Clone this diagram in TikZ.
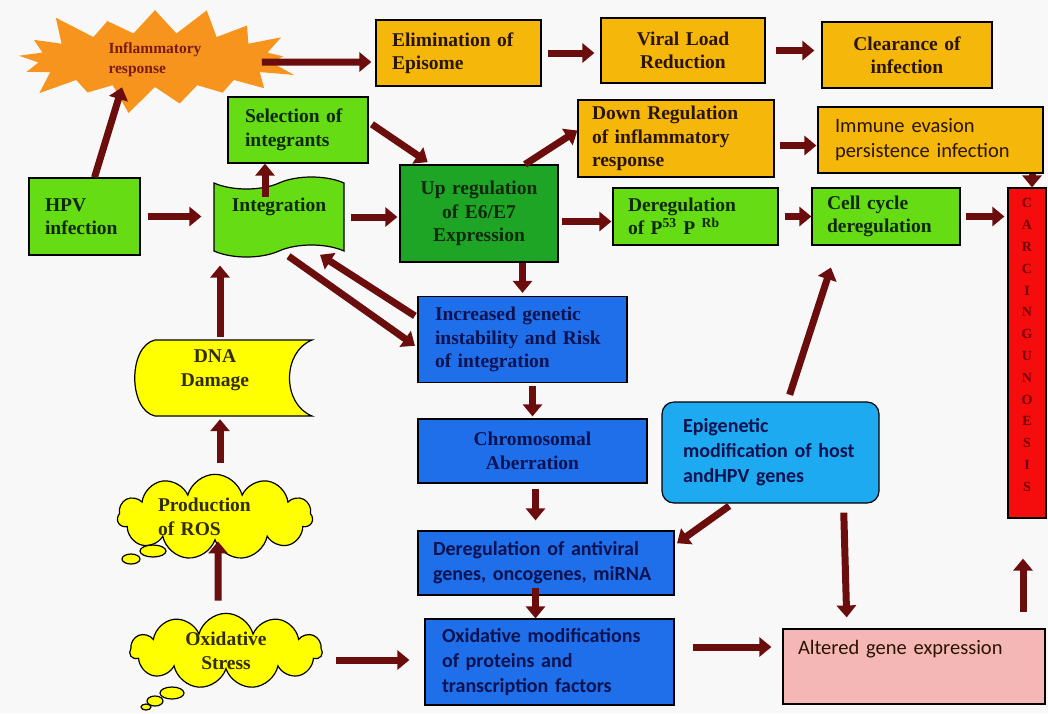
\documentclass[tikz,border=0pt]{standalone}
\usepackage{fontspec}
\setmainfont{Liberation Serif}
\newfontfamily\calibri{Carlito}
\usetikzlibrary{arrows.meta,shapes.symbols}

\definecolor{bgwhite}{RGB}{248,248,248}
\definecolor{boxgold}{RGB}{245,184,10}
\definecolor{litegreen}{RGB}{102,220,20}
\definecolor{dkgreen}{RGB}{31,165,38}
\definecolor{boxblue}{RGB}{31,111,235}
\definecolor{epiblue}{RGB}{30,170,240}
\definecolor{pinkbox}{RGB}{245,182,182}
\definecolor{carcred}{RGB}{245,12,12}
\definecolor{puffyellow}{RGB}{255,255,0}
\definecolor{burstorange}{RGB}{247,148,30}
\definecolor{arrowred}{RGB}{107,13,13}
\definecolor{goldtext}{RGB}{42,21,0}
\definecolor{greentext}{RGB}{16,40,10}
\definecolor{bluetext}{RGB}{10,18,80}
\definecolor{infltext}{RGB}{122,26,26}
\definecolor{carctext}{RGB}{112,0,0}
\definecolor{pufftext}{RGB}{50,45,0}

\tikzset{
  box/.style={draw=black, line width=1.2pt, inner xsep=0pt, inner ysep=0pt, align=left},
  serifbox/.style={box, font=\bfseries\fontsize{19.5}{23.5}\selectfont},
  sansbox/.style={box, font=\calibri\fontsize{20.5}{25}\selectfont},
  goldbox/.style={serifbox, fill=boxgold, text=goldtext},
  greenbox/.style={serifbox, fill=litegreen, text=greentext},
  bluebox/.style={serifbox, fill=boxblue, text=bluetext},
  sansblue/.style={sansbox, font=\calibri\bfseries\fontsize{20}{25}\selectfont, text=bluetext},
  puff/.style={cloud, cloud puffs=11, cloud ignores aspect, draw=black, line width=1.2pt, fill=puffyellow, text=pufftext, inner sep=0pt, font=\bfseries\fontsize{19.5}{23.5}\selectfont},
  flow/.style={draw=arrowred, line width=7pt, -{Triangle[length=12pt,width=19pt]}},
}

\begin{document}
\begin{tikzpicture}[x=1pt,y=-1pt]
\useasboundingbox (0,0) rectangle (1048,713);
\fill[bgwhite] (0,0) rectangle (1048,713);

% top row
\node[starburst, starburst points=17, starburst point height=32pt, fill=burstorange, minimum width=298pt, minimum height=118pt, inner sep=0pt, align=left, text=infltext, font=\bfseries\fontsize{15.5}{20}\selectfont] (infl) at (155,60) {Inflammatory\\response};
\node[goldbox, minimum width=165pt, minimum height=66pt, text width=133pt] (elim) at (458.5,53) {Elimination of\\Episome};
\node[goldbox, align=center, minimum width=164pt, minimum height=65pt, text width=140pt] (viral) at (683,50.5) {Viral Load\\Reduction};
\node[goldbox, align=center, minimum width=170pt, minimum height=66pt, text width=140pt] (clear) at (907,55) {Clearance of\\infection};

\node[greenbox, minimum width=140pt, minimum height=66pt, text width=106pt] (sel) at (298,130) {Selection of\\integrants};
\node[goldbox, minimum width=196pt, minimum height=77pt, text width=168pt] (down) at (676,138.5) {Down Regulation\\of inflammatory\\response};
\node[sansbox, fill=boxgold, text=goldtext, minimum width=225pt, minimum height=66pt, text width=191pt] (immune) at (930.5,140) {Immune evasion\\persistence infection};

% middle row
\node[greenbox, minimum width=111pt, minimum height=77pt, text width=79pt] (hpv) at (84.5,216.5) {HPV\\infection};
\node[tape, tape bend height=12pt, draw=black, line width=1.2pt, fill=litegreen, text=greentext, font=\bfseries\fontsize{19.5}{23.5}\selectfont, minimum width=130pt, minimum height=80pt, inner sep=0pt, text height=14pt, text depth=26pt] (integ) at (279,217) {Integration};
\node[greenbox, fill=dkgreen, align=center, minimum width=158pt, minimum height=97pt, text width=140pt] (upreg) at (479,213.5) {Up regulation\\of E6/E7\\Expression};
\node[greenbox, minimum width=165pt, minimum height=57pt, text width=135pt] (p53) at (695.5,216.5) {Deregulation\\of P\textsuperscript{53} P \textsuperscript{Rb}};
\node[greenbox, minimum width=148pt, minimum height=57pt, text width=118pt] (cell) at (886,216.5) {Cell cycle\\deregulation};
\node[box, fill=carcred, text=carctext, align=center, minimum width=38pt, minimum height=330pt, text depth=16pt, font=\bfseries\fontsize{14}{21.8}\selectfont] (carc) at (1027,353) {C\\A\\R\\C\\I\\N\\G\\U\\N\\O\\E\\S\\I\\S};

% blue column
\node[bluebox, minimum width=209pt, minimum height=86pt, text width=175pt] (incr) at (522.5,339.5) {Increased genetic\\instability and Risk\\of integration};
\node[bluebox, align=center, minimum width=229pt, minimum height=64pt, text width=200pt] (chrom) at (532.5,451) {Chromosomal\\Aberration};
\node[sansblue, fill=boxblue, minimum width=256pt, minimum height=64pt, text width=226pt] (antiv) at (546,563) {Deregulation of antiviral\\genes, oncogenes, miRNA};
\node[sansblue, fill=boxblue, minimum width=249pt, minimum height=86pt, text width=215pt] (oxmod) at (549.5,662) {Oxidative modifications\\of proteins and\\transcription factors};
\node[sansblue, fill=epiblue, rounded corners=12pt, minimum width=217pt, minimum height=101pt, text width=175pt] (epi) at (770.5,452.5) {Epigenetic\\modification of host\\andHPV genes};
\node[sansbox, fill=pinkbox, text=goldtext, minimum width=262pt, minimum height=75pt, text width=232pt, text height=15pt, text depth=40pt] (alter) at (914,666.5) {Altered gene expression};

% left column
\draw[line width=1.2pt, fill=puffyellow] (155,340) -- (312,340) .. controls (282,352) and (282,404) .. (312,416) -- (155,416) .. controls (128,410) and (128,346) .. (155,340) -- cycle;
\node[align=center, text=pufftext, font=\bfseries\fontsize{19.5}{23.5}\selectfont, minimum width=160pt, minimum height=66pt, inner sep=0pt] (dna) at (215,370) {DNA\\Damage};
\node[puff, align=left, minimum width=195pt, minimum height=85pt, text width=114pt] (ros) at (215,517) {Production\\of ROS};
\draw[line width=1.2pt, fill=puffyellow] (153,551) ellipse (13pt and 6pt);
\draw[line width=1.2pt, fill=puffyellow] (131,559) ellipse (9pt and 5pt);
\node[puff, align=center, minimum width=192pt, minimum height=72pt] (oxs) at (226,651) {Oxidative\\Stress};
\draw[line width=1.2pt, fill=puffyellow] (172,693) ellipse (12pt and 6pt);
\draw[line width=1.2pt, fill=puffyellow] (155,701) ellipse (8pt and 5pt);
\draw[line width=1.2pt, fill=puffyellow] (146,707) ellipse (5pt and 3pt);

% arrows
\draw[flow, shorten >=4pt] ([xshift=-15pt,yshift=-2pt]infl.east) -- ([yshift=-9pt]elim.west);
\draw[flow, shorten <=6pt, shorten >=6pt] (elim.east) -- (elim.east -| viral.west);
\draw[flow, shorten <=10pt, shorten >=7pt] (viral.east) -- (viral.east -| clear.west);
\draw[flow] ([xshift=10pt]hpv.north) -- ([xshift=-33pt]infl.south);
\draw[flow, shorten <=7pt, shorten >=12pt] (hpv.east) -- (hpv.east -| integ.west);
\draw[flow] ([xshift=-14pt,yshift=-15pt]integ.north) -- ([xshift=-14pt]integ.north |- sel.south);
\draw[flow, shorten <=4pt, shorten >=4pt] ([yshift=8pt]sel.east) -- ([xshift=-48pt]upreg.north);
\draw[flow, shorten <=6pt, shorten >=2pt] (integ.east) -- (integ.east -| upreg.west);
\draw[flow] ([xshift=46pt]upreg.north) -- ([yshift=8pt]down.west);
\draw[flow, shorten <=5pt, shorten >=1pt] ([yshift=-7pt]down.east) -- ([yshift=-7pt]down.east -| immune.west);
\draw[flow] ([xshift=5pt]carc.north |- immune.south) -- ([xshift=5pt]carc.north);
\draw[flow, shorten <=3pt, shorten >=1pt] ([yshift=-8pt]upreg.east) -- ([yshift=-8pt]upreg.east -| p53.west);
\draw[flow, shorten <=6pt] (p53.east) -- (p53.east -| cell.west);
\draw[flow, shorten <=5pt, shorten >=3pt] (cell.east) -- (cell.east -| carc.west);
\draw[flow, shorten >=3pt] (incr.north |- upreg.south) -- (incr.north);
\draw[flow, shorten <=3pt, shorten >=6pt] ([yshift=22pt]incr.west) -- ([xshift=36pt]integ.south);
\draw[flow, shorten <=8pt, shorten >=3pt] ([xshift=3pt]integ.south) -- ([yshift=-8pt]incr.west);
\draw[flow, shorten <=3pt, shorten >=2pt] (chrom.north |- incr.south) -- (chrom.north);
\draw[flow, shorten <=5pt, shorten >=10pt] ([xshift=3pt]chrom.south) -- ([xshift=3pt]chrom.south |- antiv.north);
\draw[flow] ([xshift=3pt,yshift=8pt]chrom.south |- antiv.south) -- ([xshift=3pt]chrom.south |- oxmod.north);
\draw[flow, shorten <=4pt, shorten >=3pt] ([xshift=-38pt]epi.south) -- ([yshift=18pt]antiv.east);
\draw[flow, shorten <=9pt, shorten >=11pt] ([xshift=73pt]epi.south) -- ([xshift=-67pt]alter.north);
\draw[flow, shorten <=7pt, shorten >=23pt] ([xshift=17pt]epi.north) -- ([xshift=-48pt]cell.south);
\draw[flow, shorten <=18pt, shorten >=11pt] ([yshift=15pt]oxmod.east) -- ([yshift=15pt]oxmod.east -| alter.west);
\draw[flow, shorten <=16pt, shorten >=40pt] ([xshift=-4pt]carc.south |- alter.north) -- ([xshift=-4pt]carc.south);
\draw[flow, shorten >=14pt] ([xshift=5pt]dna.north) -- ([xshift=5pt]dna.north |- integ.south);
\draw[flow, shorten >=16pt] ([xshift=5pt,yshift=11pt]ros.north) -- ([xshift=5pt]dna.south);
\draw[flow] ([xshift=-8pt,yshift=12pt]oxs.north) -- ([xshift=3pt]ros.south);
\draw[flow, shorten <=13pt, shorten >=15pt] ([yshift=-9pt]oxs.east) -- ([yshift=-9pt]oxs.east -| oxmod.west);
\end{tikzpicture}
\end{document}
